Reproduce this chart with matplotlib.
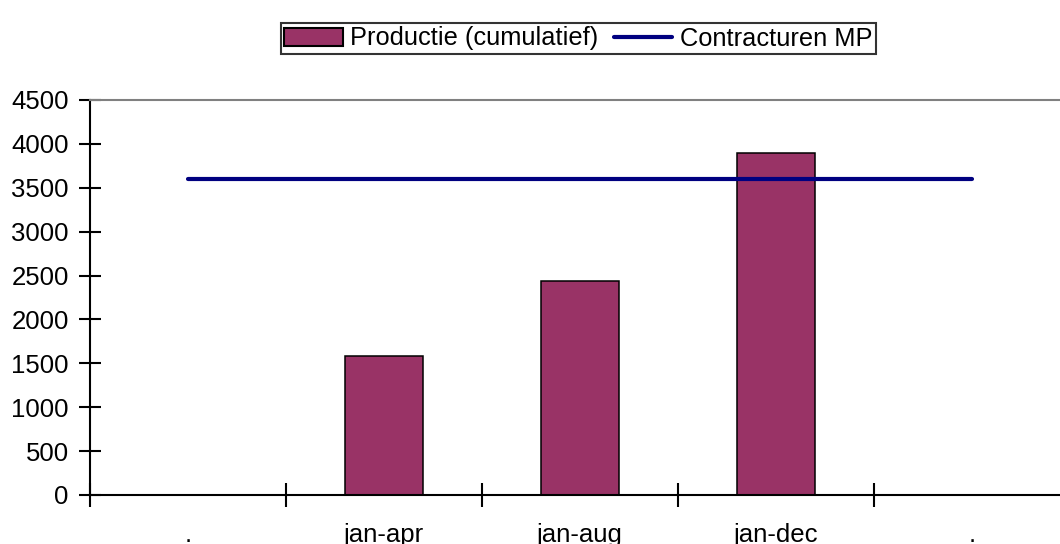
import matplotlib
matplotlib.use("Agg")
import matplotlib.pyplot as plt
import numpy as np

categories = [".", "jan-apr", "jan-aug", "jan-dec", "."]
productie = [np.nan, 1580, 2440, 3900, np.nan]
contract = [3600, 3600, 3600, 3600, 3600]
yticks = [0, 500, 1000, 1500, 2000, 2500, 3000, 3500, 4000, 4500]

plt.rcParams['font.family'] = ['Liberation Sans', 'DejaVu Sans']

fig = plt.figure(figsize=(10.6, 5.44), dpi=100)
ax = fig.add_axes([89.7 / 1060, 49 / 544, 980 / 1060, 395 / 544])

x = np.arange(len(categories))
bars = ax.bar(x, productie, width=0.4, color="#993366", edgecolor="black", linewidth=1.1,
              label="Productie (cumulatief)", zorder=2)
line, = ax.plot(x, contract, color="#000080", linewidth=3, label="Contracturen MP", zorder=3,
                solid_capstyle="round")

ax.set_xlim(-0.5, len(categories) - 0.5)
ax.set_ylim(0, 4500)
ax.set_yticks(yticks)
ax.set_yticklabels([str(v) for v in yticks], fontsize=18.5)

ax.set_xticks(np.arange(-0.5, len(categories), 1.0))
ax.set_xticklabels([])
ax.set_xticks(x, minor=True)
ax.set_xticklabels(categories, minor=True, fontsize=18.5)
ax.tick_params(axis='x', which='major', direction='inout', length=17, width=1.5)
ax.tick_params(axis='x', which='minor', length=0, pad=20)
ax.tick_params(axis='y', direction='inout', length=16, width=1.5, pad=7)

for s in ['left', 'bottom']:
    ax.spines[s].set_linewidth(1.5)
    ax.spines[s].set_color('black')
ax.spines['top'].set_color('#808080')
ax.spines['top'].set_linewidth(1.5)
ax.spines['right'].set_visible(False)

leg = fig.legend([bars, line], ["Productie (cumulatief)", "Contracturen MP"],
                 loc='center', bbox_to_anchor=(578.5 / 1060, 1 - 38.5 / 544), ncol=2,
                 fontsize=18.3, frameon=True, fancybox=False, borderpad=0.15,
                 handlelength=2.3, handleheight=0.7, handletextpad=0.3, columnspacing=0.6,
                 borderaxespad=0)
leg.get_frame().set_edgecolor('black')
leg.get_frame().set_linewidth(1.5)
for p in leg.get_patches():
    p.set_linewidth(1.5)

fig.savefig("out.png", dpi=100)
